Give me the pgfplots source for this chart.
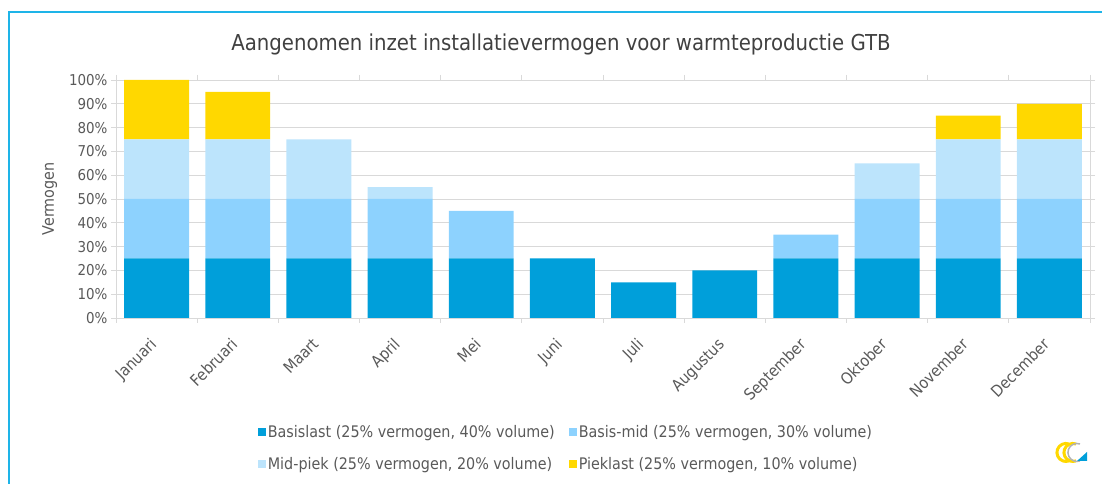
\documentclass[border=0pt]{standalone}
\usepackage{pgfplots}
\pgfplotsset{compat=1.18}
\usepackage{fontspec}
\setmainfont{DejaVu Sans Condensed}
\definecolor{c1}{HTML}{009FDA}
\definecolor{c2}{HTML}{8DD2FE}
\definecolor{c3}{HTML}{BCE4FC}
\definecolor{c4}{HTML}{FFD800}
\definecolor{txt}{HTML}{595959}
\definecolor{ttl}{HTML}{404040}
\definecolor{gridc}{HTML}{D9D9D9}
\definecolor{framec}{HTML}{1EB4E8}
\begin{document}
\begin{tikzpicture}[x=1bp,y=1bp]
\path[use as bounding box] (0,0) rectangle (1102,484);
\draw[framec, line width=2bp] (9,0) -- (9,472) -- (1102,472);
\node[text=ttl, font=\fontsize{22}{24}\selectfont] at (561,440) {Aangenomen inzet installatievermogen voor warmteproductie GTB};
\begin{axis}[
  at={(116bp,166bp)}, anchor=south west, scale only axis,
  width=974bp, height=238bp,
  ybar stacked, bar width=0.8,
  xmin=-0.5, xmax=11.5, ymin=0, ymax=100,
  /pgf/number format/assume math mode=true,
  ytick={0,10,...,100},
  yticklabels={0\%,10\%,20\%,30\%,40\%,50\%,60\%,70\%,80\%,90\%,100\%},
  ymajorgrids, grid style={gridc, line width=0.8bp},
  axis line style={gridc, line width=0.8bp},
  tick align=outside, major tick length=5bp,
  tick style={gridc, line width=0.8bp},
  xtick={0,...,11},
  xticklabels={Januari,Februari,Maart,April,Mei,Juni,Juli,Augustus,September,Oktober,November,December},
  major x tick style={draw=none},
  minor xtick={-0.5,0.5,...,11.5},
  minor tick length=5bp,
  x tick label style={rotate=45, anchor=north east, yshift=-1bp, xshift=-12bp, font=\fontsize{16}{18}\selectfont},
  y tick label style={font=\fontsize{15}{17}\selectfont},
  tick label style={text=txt},
  ylabel={Vermogen},
  ylabel style={at={(axis description cs:-0.068,0.5)}, anchor=center, text=txt, font=\fontsize{16}{18}\selectfont},
  legend columns=2,
  legend style={at={(axis description cs:0.462,-0.546)}, anchor=center, draw=none, fill=none,
    font=\fontsize{16}{18}\selectfont, text=txt, cells={anchor=west},
    /tikz/every even column/.append style={column sep=12bp},
    row sep=14bp},
  legend image code/.code={\fill[#1] (0bp,-4bp) rectangle (8bp,4bp);},
]
\addplot[fill=c1, draw=none] coordinates {(0,25) (1,25) (2,25) (3,25) (4,25) (5,25) (6,15) (7,20) (8,25) (9,25) (10,25) (11,25)};
\addplot[fill=c2, draw=none] coordinates {(0,25) (1,25) (2,25) (3,25) (4,20) (5,0) (6,0) (7,0) (8,10) (9,25) (10,25) (11,25)};
\addplot[fill=c3, draw=none] coordinates {(0,25) (1,25) (2,25) (3,5) (4,0) (5,0) (6,0) (7,0) (8,0) (9,15) (10,25) (11,25)};
\addplot[fill=c4, draw=none] coordinates {(0,25) (1,20) (2,0) (3,0) (4,0) (5,0) (6,0) (7,0) (8,0) (9,0) (10,10) (11,15)};
\legend{{Basislast (25\% vermogen, 40\% volume)},{Basis-mid (25\% vermogen, 30\% volume)},{Mid-piek (25\% vermogen, 20\% volume)},{Pieklast (25\% vermogen, 10\% volume)}}
\end{axis}
\draw[c4, line width=3bp] (1069,40) arc (70:290:9);
\draw[c4, line width=3bp] (1076,40) arc (70:290:9);
\draw[gray!60, line width=1.5bp] (1080,40) arc (70:290:9);
\fill[c1] (1077,23) -- (1087,23) -- (1087,32) -- cycle;
\end{tikzpicture}
\end{document}
